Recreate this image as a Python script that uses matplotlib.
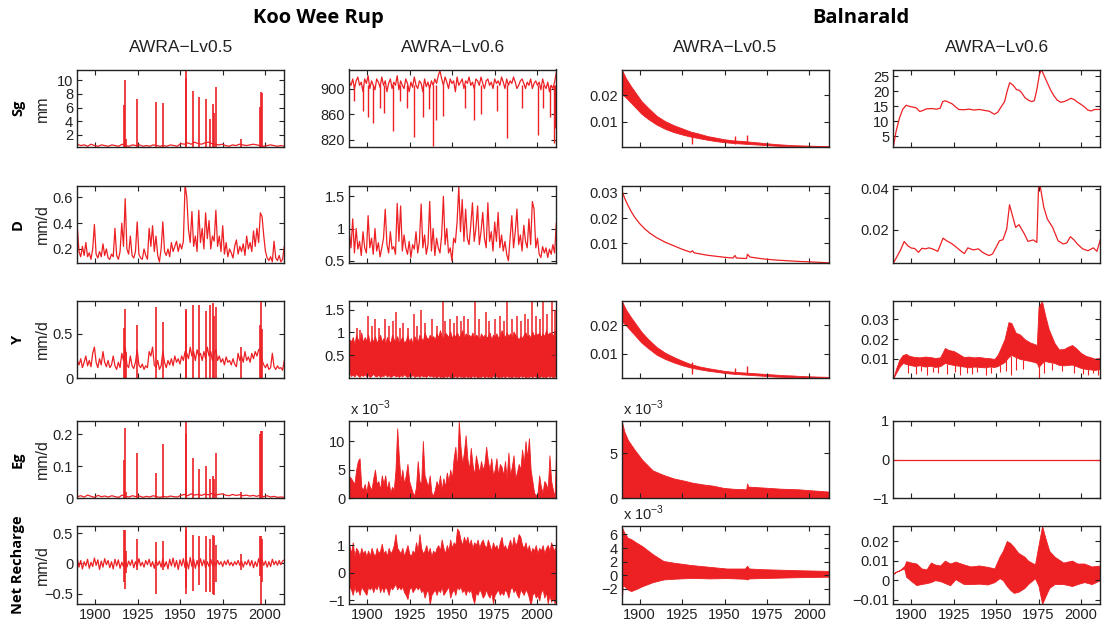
import numpy as np
import matplotlib
matplotlib.use("Agg")
import matplotlib.pyplot as plt

plt.rcParams["font.family"] = ["Liberation Sans", "DejaVu Sans"]

RED = "#ed2024"
XLIM = (1889.4, 2011.4)
XTICKS = [1900, 1925, 1950, 1975, 2000]

# ---------------- Koo Wee Rup, shared event years (spikes) ----------------
kwr_event_years = [1889.5, 1916.7, 1917.4, 1918.2, 1924.7, 1936.0, 1940.2, 1953.2, 1953.7, 1957.4,
                   1961.4, 1965.5, 1967.6, 1969.3, 1969.9, 1971.4, 1985.6, 1996.8, 1997.6, 1998.1]

# Sg, AWRA-Lv0.5, Koo Wee Rup (mm)
sg05_kwr_base = [0.6, 0.4, 0.5, 0.3, 0.6, 0.4, 0.3, 0.5, 0.4, 0.3,
                 0.5, 0.4, 0.3, 0.6, 0.4, 0.3, 0.5, 0.4, 0.5, 0.3,
                 0.4, 0.3, 0.5, 0.4, 0.3, 0.4, 0.3, 0.5, 0.4, 0.3,
                 0.7, 0.6, 0.8, 0.6, 0.9, 0.7, 0.6, 0.8, 0.9, 0.7,
                 0.6, 0.5, 0.6, 0.4, 0.3, 0.5, 0.4, 0.6, 0.5, 0.4,
                 0.5, 0.6, 0.5, 0.4, 0.3, 0.4, 0.5, 0.4, 0.3, 0.4, 0.3]
sg05_kwr_peaks = [6.2, 6.3, 10.0, 1.3, 7.2, 6.8, 6.6, 11.6, 10.4, 8.4,
                  7.6, 7.3, 4.3, 6.5, 5.2, 9.0, 1.4, 6.1, 8.3, 8.2]

# Sg, AWRA-Lv0.6, Koo Wee Rup (mm)
sg06_kwr = [910, 905, 915, 900, 912, 918, 905, 910, 895, 915,
            908, 920, 900, 912, 905, 898, 915, 910, 902, 918,
            905, 912, 895, 908, 915, 900, 910, 905, 920, 898,
            912, 905, 900, 915, 908, 895, 910, 902, 918, 905,
            900, 912, 908, 895, 915, 903, 910, 900, 912, 905,
            915, 908, 920, 928, 915, 905, 918, 910, 900, 915,
            908, 912, 895, 918, 905, 910, 915, 900, 912, 908,
            918, 905, 910, 900, 915, 912, 905, 918, 908, 900,
            912, 915, 905, 910, 900, 915, 908, 912, 905, 918,
            910, 900, 915, 905, 912, 908, 918, 910, 900, 905,
            912, 915, 908, 900, 910, 905, 915, 900, 908, 912,
            905, 910, 898, 915, 905, 900, 910, 895, 905, 900,
            910, 925]
sg06_kwr_dip_years = [1891.9, 1897.2, 1900.4, 1903.5, 1907.7, 1909.9, 1915.1, 1919.3, 1923.6, 1927.8,
                      1932.6, 1936.2, 1938.9, 1940.4, 1944.7, 1957.3, 1962.6, 1966.8, 1976.3, 1982.6,
                      1991.0, 2000.4, 2003.6, 2007.8, 2009.9, 2010.6]
sg06_kwr_dip_vals = [880, 865, 856, 846, 870, 862, 833, 880, 870, 824,
                     856, 868, 810, 850, 857, 870, 850, 860, 865, 822,
                     870, 828, 870, 855, 815, 838]

# Sg, Balnarald, AWRA-Lv0.5 (band)
sg05_bal_years = [1889.4, 1892, 1895, 1898, 1901, 1905, 1910, 1915, 1920, 1925, 1930, 1935, 1940, 1945,
                  1950, 1955, 1960, 1965, 1970, 1975, 1980, 1985, 1990, 1995, 2000, 2005, 2011.4]
sg05_bal_hi = [0.0296, 0.0262, 0.0232, 0.0205, 0.0178, 0.0152, 0.0122, 0.0102, 0.0087, 0.0075, 0.0063,
               0.0055, 0.0046, 0.0040, 0.0034, 0.0030, 0.0028, 0.0025, 0.0022, 0.0019, 0.0016, 0.0014,
               0.0012, 0.0011, 0.0010, 0.0009, 0.0009]
sg05_bal_lo = [0.0205, 0.0190, 0.0170, 0.0150, 0.0130, 0.0110, 0.0089, 0.0073, 0.0061, 0.0052, 0.0044,
               0.0038, 0.0032, 0.0027, 0.0023, 0.0020, 0.0018, 0.0016, 0.0014, 0.0012, 0.0010, 0.0009,
               0.0008, 0.0007, 0.0006, 0.0006, 0.0005]
bal05_bump_years = [1931.1, 1956.2, 1963.3]
sg05_bal_bumps = [0.0055, 0.0045, 0.0050]

# Sg, Balnarald, AWRA-Lv0.6 (line)
sg06_bal_years = [1889.4, 1891, 1893, 1895, 1897, 1899, 1901, 1903, 1905, 1907, 1909, 1912, 1915, 1917,
                  1918.5, 1920, 1922, 1924, 1926, 1928, 1931, 1934, 1937, 1940, 1943, 1946, 1949, 1951,
                  1953, 1955, 1956.5, 1958, 1960, 1962, 1963.5, 1965, 1967, 1969, 1971, 1972.5, 1974,
                  1975.5, 1976.7, 1978, 1980, 1982, 1984, 1986, 1988, 1990, 1992, 1994, 1996, 1998,
                  2000, 2002, 2004, 2006, 2008, 2011.4]
sg06_bal = [1.4, 6.5, 11.0, 14.0, 15.3, 14.9, 14.7, 14.4, 13.2, 13.6, 14.1, 14.2, 14.0, 14.3,
            16.5, 16.8, 16.3, 15.8, 14.8, 13.9, 13.8, 14.0, 13.7, 13.9, 13.6, 13.3, 12.3, 13.0,
            14.8, 16.5, 20.0, 22.8, 22.0, 20.5, 20.3, 19.5, 17.8, 17.0, 16.5, 16.8, 20.5,
            25.5, 27.2, 25.5, 23.0, 20.5, 18.5, 17.0, 16.3, 16.5, 17.0, 17.6, 17.2, 16.3,
            15.6, 14.8, 13.7, 13.4, 13.9, 13.9]

# D (mm/d)
d05_kwr = [0.37, 0.18, 0.14, 0.22, 0.15, 0.25, 0.14, 0.17, 0.12, 0.20,
           0.39, 0.16, 0.13, 0.18, 0.14, 0.24, 0.15, 0.20, 0.13, 0.12,
           0.16, 0.14, 0.36, 0.15, 0.12, 0.18, 0.40, 0.22, 0.59, 0.20,
           0.16, 0.30, 0.15, 0.13, 0.18, 0.41, 0.16, 0.13, 0.12, 0.20,
           0.15, 0.12, 0.36, 0.22, 0.38, 0.18, 0.30, 0.15, 0.10, 0.20,
           0.41, 0.18, 0.15, 0.20, 0.14, 0.25, 0.18, 0.22, 0.26, 0.18,
           0.24, 0.20, 0.26, 0.70, 0.60, 0.35, 0.25, 0.49, 0.22, 0.30,
           0.18, 0.50, 0.25, 0.36, 0.20, 0.48, 0.28, 0.42, 0.20, 0.30,
           0.26, 0.50, 0.22, 0.30, 0.18, 0.38, 0.16, 0.25, 0.14, 0.20,
           0.17, 0.13, 0.22, 0.27, 0.16, 0.22, 0.18, 0.24, 0.15, 0.30,
           0.20, 0.25, 0.18, 0.34, 0.22, 0.36, 0.25, 0.48, 0.45, 0.30,
           0.18, 0.13, 0.11, 0.14, 0.10, 0.26, 0.13, 0.11, 0.15, 0.10,
           0.12, 0.22]
d06_kwr = [0.95, 0.70, 1.15, 0.62, 1.00, 0.68, 0.80, 0.58, 0.95, 0.70,
           0.62, 1.20, 0.70, 0.85, 0.60, 1.00, 0.65, 0.78, 0.56, 0.70,
           0.85, 1.30, 0.75, 0.62, 0.95, 0.68, 0.72, 0.60, 1.39, 0.80,
           1.35, 0.65, 0.90, 0.70, 0.60, 0.80, 0.55, 0.75, 0.68, 0.95,
           0.62, 0.80, 1.38, 0.70, 0.90, 0.60, 0.75, 1.42, 0.65, 1.00,
           0.58, 0.85, 0.70, 0.62, 0.90, 1.50, 0.75, 1.00, 0.62, 0.70,
           0.50, 0.85, 0.78, 1.10, 1.65, 0.95, 1.45, 0.80, 1.30, 0.85,
           0.75, 1.05, 1.40, 0.80, 1.00, 1.35, 0.75, 0.95, 1.25, 0.85,
           0.70, 1.40, 0.80, 0.95, 0.65, 1.10, 0.80, 1.25, 0.70, 0.90,
           0.65, 0.80, 0.60, 0.50, 0.85, 1.20, 0.70, 0.95, 1.30, 0.75,
           0.90, 0.65, 1.05, 0.80, 0.70, 1.15, 0.75, 1.42, 1.30, 0.70,
           0.85, 0.60, 0.55, 0.72, 0.62, 0.70, 0.55, 0.68, 0.60, 0.75,
           0.62, 1.08]
d05_bal_years = [1889.4, 1890, 1891, 1892, 1893, 1895, 1897, 1900, 1903, 1906, 1910, 1915, 1920, 1925,
                 1930, 1931.1, 1932, 1935, 1940, 1945, 1950, 1955, 1956.2, 1957, 1960, 1963, 1963.5,
                 1965, 1970, 1975, 1980, 1985, 1990, 1995, 2000, 2005, 2011.4]
d05_bal = [0.0316, 0.0300, 0.0282, 0.0266, 0.0252, 0.0226, 0.0204, 0.0178, 0.0157, 0.0140, 0.0122,
           0.0104, 0.0090, 0.0076, 0.0064, 0.0070, 0.0062, 0.0058, 0.0052, 0.0048, 0.0044, 0.0041,
           0.0051, 0.0041, 0.0040, 0.0039, 0.0056, 0.0045, 0.0040, 0.0036, 0.0033, 0.0031, 0.0029,
           0.0027, 0.0026, 0.0024, 0.0022]
d06_bal_years = [1889.4, 1893.7, 1895.8, 1898, 1900, 1902, 1904.2, 1906.3, 1908.3, 1910.4, 1912.5,
                 1915.6, 1918.75, 1920.8, 1924, 1927, 1930.2, 1931.3, 1933.3, 1936.5, 1939.6, 1941.7,
                 1943.75, 1945.8, 1947.9, 1952, 1954, 1956.25, 1957.9, 1959.4, 1961.5, 1963.5, 1966.7,
                 1968.75, 1971.9, 1974, 1975, 1976, 1978.1, 1980.2, 1983.3, 1986.5, 1989.6, 1991.7,
                 1993.75, 1995.8, 1997.9, 2001, 2004.2, 2007.3, 2009.4, 2011.4]
d06_bal = [0.0034, 0.0100, 0.0141, 0.0120, 0.0109, 0.0107, 0.0088, 0.0108, 0.0105, 0.0110, 0.0105,
           0.0093, 0.0158, 0.0145, 0.0130, 0.0110, 0.0088, 0.0082, 0.0110, 0.0100, 0.0105, 0.0090,
           0.0080, 0.0072, 0.0080, 0.0145, 0.0150, 0.0203, 0.0322, 0.0276, 0.0211, 0.0224, 0.0178,
           0.0142, 0.0149, 0.0137, 0.0408, 0.0413, 0.0310, 0.0252, 0.0211, 0.0145, 0.0129, 0.0135,
           0.0165, 0.0150, 0.0129, 0.0105, 0.0096, 0.0110, 0.0093, 0.0150]

# Y (mm/d)
y05_kwr_base = [0.20, 0.15, 0.22, 0.12, 0.18, 0.25, 0.14, 0.20, 0.13, 0.28,
                0.35, 0.18, 0.12, 0.22, 0.15, 0.30, 0.18, 0.13, 0.20, 0.12,
                0.15, 0.25, 0.14, 0.10, 0.18, 0.12, 0.28, 0.20, 0.35, 0.15,
                0.12, 0.25, 0.14, 0.11, 0.18, 0.32, 0.15, 0.12, 0.16, 0.10,
                0.14, 0.12, 0.30, 0.25, 0.35, 0.15, 0.12, 0.20, 0.10, 0.14,
                0.30, 0.18, 0.12, 0.20, 0.15, 0.22, 0.14, 0.25, 0.18, 0.22,
                0.16, 0.25, 0.20, 0.30, 0.28, 0.22, 0.35, 0.25, 0.30, 0.20,
                0.32, 0.25, 0.28, 0.20, 0.30, 0.22, 0.35, 0.25, 0.30, 0.20,
                0.28, 0.32, 0.20, 0.25, 0.18, 0.22, 0.15, 0.24, 0.18, 0.20,
                0.15, 0.22, 0.16, 0.13, 0.28, 0.20, 0.25, 0.18, 0.30, 0.20,
                0.24, 0.18, 0.28, 0.22, 0.30, 0.25, 0.32, 0.33, 0.20, 0.15,
                0.12, 0.16, 0.10, 0.12, 0.28, 0.13, 0.10, 0.14, 0.11, 0.12,
                0.09, 0.20]
y05_kwr_peaks = [0.87, 0.57, 0.78, 0.30, 0.60, 0.80, 0.63, 0.78, 0.75, 0.82,
                 0.82, 0.76, 0.82, 0.85, 0.70, 0.80, 0.35, 0.60, 0.87, 0.55]
y06_kwr_hi = [0.85, 0.80, 0.90, 0.75, 0.95, 0.85, 0.80, 1.00, 0.78, 0.90,
              0.82, 0.95, 0.75, 0.88, 0.80, 0.92, 0.78, 0.85, 0.95, 0.80,
              0.88, 0.75, 0.90, 0.82, 0.78, 0.95, 0.85, 0.80, 0.92, 0.76,
              0.85, 0.90, 0.78, 0.82, 0.95, 0.80, 0.88, 0.75, 0.92, 0.85,
              0.80, 0.95, 0.88, 0.82, 1.00, 0.90, 0.85, 0.95, 0.88, 0.92,
              0.85, 0.98, 0.90, 1.05, 0.92, 0.88, 1.00, 0.95, 0.90, 1.02,
              0.88, 0.95, 0.92, 1.00, 0.90, 0.95, 1.05, 0.88, 0.98, 0.92,
              0.95, 0.90, 1.00, 0.88, 0.95, 0.92, 0.85, 0.98, 0.90, 0.95,
              0.88, 0.92, 1.00, 0.85, 0.95, 0.90, 0.98, 0.88, 0.92, 1.05,
              0.95, 0.90, 1.00, 0.92, 0.98, 0.88, 1.02, 0.95, 0.90, 0.85,
              0.92, 0.88, 0.95, 1.00, 0.90, 0.95, 0.88, 1.02, 0.92, 0.98,
              0.95, 1.00, 0.90, 0.98, 0.92, 1.05, 0.95, 1.00, 0.98, 0.92,
              1.05, 1.00]
y06_kwr_lo = [0.12, 0.05, 0.08, 0.04, 0.10, 0.06, 0.03, 0.08, 0.05, 0.09,
              0.04, 0.07, 0.03, 0.06, 0.10, 0.05, 0.04, 0.08, 0.03, 0.06,
              0.05, 0.09, 0.04, 0.07, 0.03, 0.05, 0.08, 0.04, 0.06, 0.03,
              0.07, 0.04, 0.09, 0.05, 0.03, 0.06, 0.04, 0.08, 0.03, 0.05,
              0.06, 0.03, 0.07, 0.04, 0.05, 0.03, 0.08, 0.04, 0.06, 0.03,
              0.05, 0.02, 0.06, 0.03, 0.04, 0.02, 0.05, 0.03, 0.06, 0.02,
              0.04, 0.03, 0.05, 0.02, 0.06, 0.03, 0.04, 0.02, 0.05, 0.03,
              0.04, 0.02, 0.06, 0.03, 0.05, 0.02, 0.04, 0.03, 0.06, 0.02,
              0.05, 0.03, 0.04, 0.02, 0.06, 0.03, 0.05, 0.02, 0.04, 0.03,
              0.05, 0.02, 0.06, 0.03, 0.04, 0.02, 0.05, 0.03, 0.04, 0.02,
              0.06, 0.03, 0.05, 0.02, 0.04, 0.03, 0.05, 0.02, 0.06, 0.03,
              0.04, 0.02, 0.05, 0.03, 0.04, 0.02, 0.06, 0.03, 0.05, 0.02,
              0.04, 0.05]
y06_kwr_spike_years = [1893.8, 1896, 1900.2, 1902.5, 1904.4, 1907, 1910.7, 1913, 1914.9, 1917,
                       1919, 1921.3, 1924, 1927.6, 1929.5, 1931.8, 1934, 1938.1, 1941, 1944.5,
                       1946, 1948.7, 1951, 1952.9, 1955, 1957.1, 1959.5, 1963.4, 1966, 1969.8,
                       1972, 1975, 1978.2, 1980.5, 1982.4, 1985, 1988, 1990.5, 1993, 1995,
                       1997.2, 1999.5, 2001.5, 2003.5, 2006, 2008.8, 2010.9]
y06_kwr_spike_vals = [1.10, 1.05, 1.35, 1.15, 1.30, 1.10, 1.30, 1.15, 1.25, 1.45,
                      1.10, 1.20, 1.10, 1.40, 1.15, 1.50, 1.20, 1.30, 1.15, 1.69,
                      1.25, 1.30, 1.20, 1.35, 1.25, 1.35, 1.30, 1.69, 1.30, 1.45,
                      1.25, 1.30, 1.35, 1.25, 1.69, 1.30, 1.35, 1.25, 1.40, 1.30,
                      1.69, 1.35, 1.30, 1.69, 1.40, 1.69, 1.50]
y05_bal_hi = [0.0287, 0.0255, 0.0228, 0.0203, 0.0178, 0.0152, 0.0124, 0.0104, 0.0089, 0.0076, 0.0064,
              0.0056, 0.0050, 0.0045, 0.0040, 0.0037, 0.0035, 0.0033, 0.0031, 0.0029, 0.0027, 0.0025,
              0.0024, 0.0022, 0.0021, 0.0020, 0.0019]
y05_bal_lo = [0.0215, 0.0200, 0.0180, 0.0160, 0.0140, 0.0120, 0.0097, 0.0082, 0.0070, 0.0060, 0.0052,
              0.0046, 0.0041, 0.0037, 0.0033, 0.0030, 0.0028, 0.0026, 0.0024, 0.0022, 0.0020, 0.0019,
              0.0018, 0.0017, 0.0016, 0.0015, 0.0014]
y05_bal_bumps = [0.0070, 0.0050, 0.0058]
y06_bal_years = [1889.4, 1891, 1893, 1895, 1897, 1899, 1902, 1905, 1908, 1911, 1914, 1917, 1919.8,
                 1922, 1925, 1928, 1931, 1934, 1937, 1940, 1943, 1946, 1949, 1951, 1953, 1955, 1957.3,
                 1959, 1961.5, 1964, 1967, 1970, 1972.5, 1974, 1975, 1977, 1979, 1981, 1984.4, 1987,
                 1990, 1992, 1994.8, 1997, 2000, 2003, 2005.2, 2008, 2011.4]
y06_bal_hi = [0.0003, 0.0050, 0.0097, 0.0120, 0.0125, 0.0115, 0.0110, 0.0108, 0.0112, 0.0110, 0.0105,
              0.0108, 0.0155, 0.0145, 0.0140, 0.0125, 0.0110, 0.0112, 0.0108, 0.0110, 0.0106, 0.0104,
              0.0100, 0.0122, 0.0160, 0.0200, 0.0285, 0.0280, 0.0232, 0.0223, 0.0198, 0.0183, 0.0175,
              0.0170, 0.0363, 0.0390, 0.0315, 0.0250, 0.0180, 0.0148, 0.0150, 0.0160, 0.0170, 0.0155,
              0.0130, 0.0115, 0.0110, 0.0102, 0.0105]
y06_bal_lo = [0.0003, 0.0030, 0.0060, 0.0080, 0.0075, 0.0070, 0.0065, 0.0068, 0.0062, 0.0066, 0.0060,
              0.0064, 0.0080, 0.0075, 0.0070, 0.0066, 0.0062, 0.0058, 0.0062, 0.0060, 0.0058, 0.0062,
              0.0060, 0.0065, 0.0075, 0.0085, 0.0110, 0.0120, 0.0110, 0.0100, 0.0095, 0.0090, 0.0085,
              0.0080, 0.0060, 0.0080, 0.0090, 0.0085, 0.0080, 0.0070, 0.0068, 0.0070, 0.0072, 0.0065,
              0.0055, 0.0050, 0.0048, 0.0045, 0.0050]
y06_bal_dip_years = [1898, 1903, 1906, 1909, 1913, 1916, 1921, 1926, 1929, 1933, 1936, 1939, 1944, 1947,
                     1952, 1956, 1958.5, 1962, 1966, 1975.5, 1978, 1983, 1989, 1996, 2001, 2004, 2007, 2010]
y06_bal_dip_vals = [0.0030, 0.0025, 0.0040, 0.0020, 0.0035, 0.0030, 0.0025, 0.0035, 0.0020, 0.0030,
                    0.0025, 0.0035, 0.0020, 0.0030, 0.0035, 0.0040, 0.0020, 0.0045, 0.0050, 0.0005,
                    0.0030, 0.0045, 0.0040, 0.0030, 0.0025, 0.0020, 0.0030, 0.0020]

# Eg (mm/d)
eg05_kwr_base = [0.005, 0.008, 0.004, 0.010, 0.006, 0.003, 0.009, 0.005, 0.007, 0.004,
                 0.008, 0.005, 0.003, 0.010, 0.006, 0.004, 0.008, 0.005, 0.007, 0.003,
                 0.006, 0.004, 0.008, 0.005, 0.003, 0.006, 0.004, 0.007, 0.005, 0.004,
                 0.009, 0.012, 0.008, 0.014, 0.010, 0.012, 0.009, 0.013, 0.011, 0.015,
                 0.010, 0.012, 0.014, 0.010, 0.008, 0.012, 0.009, 0.011, 0.008, 0.010,
                 0.007, 0.009, 0.006, 0.010, 0.005, 0.008, 0.004, 0.006, 0.003, 0.004, 0.003]
eg05_kwr_peaks = [0.17, 0.12, 0.22, 0.02, 0.14, 0.08, 0.17, 0.24, 0.20, 0.125,
                  0.09, 0.10, 0.06, 0.07, 0.06, 0.14, 0.02, 0.20, 0.21, 0.21]
eg06_kwr_hi_e3 = [3.8, 3.5, 3.0, 2.5, 5.0, 6.5, 7.0, 2.0, 1.5, 2.5,
                  1.0, 3.0, 2.0, 1.5, 3.5, 5.0, 2.5, 3.0, 1.5, 4.0,
                  2.5, 4.0, 1.5, 3.0, 1.0, 2.0, 1.5, 5.0, 12.2, 7.0,
                  3.0, 5.0, 2.5, 4.0, 6.0, 3.0, 2.0, 1.0, 0.5, 2.0,
                  6.5, 3.0, 2.5, 10.0, 4.0, 3.0, 2.0, 4.0, 1.0, 0.5,
                  1.5, 3.0, 2.0, 4.0, 1.5, 3.5, 2.0, 4.5, 3.0, 5.0,
                  3.5, 7.0, 9.0, 5.0, 13.5, 9.0, 6.0, 8.0, 11.0, 7.0,
                  5.0, 8.8, 6.0, 4.0, 7.5, 6.0, 4.5, 6.5, 5.0, 6.0,
                  9.0, 6.5, 5.0, 7.0, 4.0, 5.0, 7.0, 4.0, 6.0, 5.5,
                  4.0, 6.5, 3.5, 8.0, 4.0, 5.5, 7.5, 3.5, 4.5, 6.0,
                  5.0, 8.5, 6.0, 10.0, 7.0, 10.5, 5.0, 3.0, 1.0, 0.5,
                  0.8, 4.0, 2.0, 1.0, 3.0, 2.5, 1.5, 7.5, 3.0, 1.5,
                  0.2, 9.5]
eg05_bal_years = [1889.4, 1891, 1893, 1897, 1901.4, 1907.7, 1914, 1920.2, 1926.5, 1930.7, 1937, 1943.3,
                  1949.6, 1955.9, 1962.8, 1963.3, 1964, 1972.6, 1983, 1993.5, 2004, 2011.4]
eg05_bal_hi_e3 = [8.6, 7.4, 6.5, 5.4, 4.3, 3.1, 2.6, 2.2, 1.95, 1.75, 1.55, 1.4, 1.15, 1.05, 1.0,
                  1.65, 1.3, 1.2, 1.07, 1.0, 0.85, 0.75]
eg06_bal = [0.0, 0.0]

# Net recharge (mm/d)
nr05_kwr_base = [0.08, -0.06, 0.05, -0.09, 0.03, -0.04, 0.07, -0.08, 0.02, -0.05,
                 0.09, -0.03, 0.06, -0.10, 0.04, -0.06, 0.08, -0.02, 0.05, -0.07,
                 0.03, -0.09, 0.07, -0.04, 0.06, -0.08, 0.02, -0.05, 0.09, -0.06,
                 0.04, -0.03, 0.06, -0.07, 0.03, -0.05, 0.08, -0.04, 0.02, -0.06,
                 0.05, -0.02, 0.07, -0.05, 0.03, -0.08, 0.06, -0.03, 0.04, -0.06,
                 0.08, -0.05, 0.03, -0.09, 0.07, -0.04, 0.09, -0.06, 0.05, -0.10,
                 0.06, -0.04, 0.08, -0.07, 0.04, -0.09, 0.10, -0.05, 0.07, -0.08,
                 0.05, -0.06, 0.08, -0.04, 0.06, -0.07, 0.03, -0.05, 0.07, -0.03,
                 0.02, -0.04, 0.05, -0.02, 0.03, -0.05, 0.04, -0.02, 0.06, -0.03,
                 0.02, -0.04, 0.03, -0.02, 0.05, -0.03, 0.04, -0.06, 0.03, -0.02,
                 0.06, -0.04, 0.05, -0.07, 0.03, -0.05, 0.08, -0.04, 0.06, -0.03,
                 0.04, -0.06, 0.03, -0.05, 0.07, -0.02, 0.04, -0.03, 0.05, -0.02,
                 0.04, 0.06]
nr05_kwr_highs = [0.25, 0.55, 0.55, 0.20, 0.40, 0.36, 0.38, 0.62, 0.55, 0.48,
                  0.45, 0.45, 0.40, 0.48, 0.45, 0.30, 0.15, 0.45, 0.45, 0.40]
nr05_kwr_lows = [-0.672, -0.30, -0.43, -0.15, -0.10, -0.50, -0.10, -0.50, -0.40, -0.45,
                 -0.35, -0.47, -0.47, -0.50, -0.52, -0.30, -0.10, -0.20, -0.672, -0.30]
nr06_kwr_hi = [1.0, 0.7, 1.1, 0.6, 0.9, 0.8, 0.6, 0.9, 0.7, 0.8,
               0.6, 0.8, 0.6, 0.9, 0.7, 0.6, 0.9, 0.7, 0.8, 1.05,
               0.7, 0.8, 0.6, 0.9, 0.7, 0.8, 1.0, 1.4, 0.9, 0.8,
               0.7, 0.9, 0.6, 0.8, 1.0, 0.7, 0.6, 0.8, 0.7, 1.1,
               0.8, 1.4, 0.9, 0.7, 0.8, 1.0, 0.7, 0.9, 0.6, 0.8,
               0.7, 0.9, 1.0, 0.8, 1.2, 0.9, 0.7, 1.0, 0.8, 1.2,
               0.9, 1.1, 1.0, 1.6, 1.5, 1.2, 1.0, 1.3, 1.1, 1.3,
               1.0, 1.2, 0.9, 1.1, 1.0, 1.2, 0.9, 1.1, 1.2, 1.0,
               0.9, 1.2, 1.0, 0.8, 1.1, 0.9, 1.0, 0.8, 1.1, 1.3,
               0.9, 1.0, 0.8, 1.0, 1.2, 0.9, 1.3, 1.0, 1.1, 1.4,
               1.3, 1.0, 0.9, 1.1, 0.8, 1.0, 0.7, 0.9, 0.8, 1.0,
               0.7, 0.9, 0.8, 1.0, 0.7, 0.9, 1.0, 0.8, 1.1, 0.9,
               0.8, 1.1]
nr06_kwr_lo = [-0.5, -0.6, -0.8, -0.5, -0.7, -0.6, -0.8, -0.5, -0.6, -0.7,
               -0.8, -0.5, -0.6, -0.5, -0.7, -0.5, -0.6, -0.4, -0.7, -0.5,
               -0.7, -0.5, -0.6, -0.8, -0.5, -0.6, -0.5, -0.4, -0.6, -0.5,
               -0.6, -0.5, -0.7, -0.8, -0.95, -0.6, -0.5, -0.7, -0.6, -0.5,
               -0.6, -0.5, -0.7, -0.6, -0.9, -0.7, -0.6, -1.15, -0.8, -0.7,
               -0.6, -0.8, -0.6, -0.7, -0.5, -0.8, -0.7, -0.6, -0.5, -0.9,
               -0.7, -0.6, -0.8, -0.5, -0.6, -0.5, -0.7, -0.6, -0.8, -0.6,
               -0.7, -0.6, -0.9, -1.1, -0.7, -0.8, -0.6, -0.7, -0.9, -0.8,
               -0.6, -0.8, -0.9, -0.7, -1.1, -0.8, -0.7, -0.6, -0.8, -0.7,
               -0.8, -0.6, -0.7, -0.9, -0.6, -0.5, -0.7, -0.6, -0.8, -0.9,
               -0.6, -0.7, -0.8, -0.6, -0.7, -0.9, -1.2, -0.8, -0.7, -0.9,
               -0.8, -1.0, -0.7, -0.6, -0.9, -0.7, -1.1, -0.8, -1.05, -0.9,
               -1.1, -0.9]
nr05_bal_years = [1889.4, 1890, 1891, 1893, 1895, 1898, 1901.4, 1907.7, 1914, 1920.2, 1930.7, 1941,
                  1951.4, 1962, 1963.3, 1964.5, 1972.6, 1993.5, 2011.4]
nr05_bal_hi_e3 = [7.2, 6.8, 6.2, 5.5, 5.3, 4.8, 4.3, 3.1, 2.1, 1.85, 1.5, 1.25, 1.0, 1.0, 1.4, 1.0,
                  0.9, 0.75, 0.65]
nr05_bal_lo_e3 = [-4.2, -1.5, -1.6, -2.1, -2.3, -2.0, -1.6, -1.0, -0.6, -0.5, -0.37, -0.45, -0.4,
                  -0.5, -0.6, -0.45, -0.4, -0.27, -0.2]
nr06_bal_years = [1889.4, 1891, 1893, 1895.8, 1897, 1900, 1903, 1906, 1909, 1911.5, 1914, 1917,
                  1919.8, 1922.9, 1926, 1931, 1935, 1940, 1945, 1949, 1952, 1954, 1956.3, 1958.3,
                  1960.4, 1963, 1966.7, 1968.8, 1972.9, 1975, 1977.1, 1979.2, 1981.3, 1984.4, 1989.6,
                  1994.8, 1997.9, 2002, 2006.3, 2011.4]
nr06_bal_hi = [0.0033, 0.0043, 0.0050, 0.0071, 0.0097, 0.0090, 0.0085, 0.0060, 0.0055, 0.0090,
               0.0080, 0.0075, 0.0100, 0.0085, 0.0095, 0.0080, 0.0070, 0.0075, 0.0068, 0.0060,
               0.0120, 0.0150, 0.0200, 0.0190, 0.0170, 0.0140, 0.0120, 0.0100, 0.0080, 0.0180,
               0.0277, 0.0210, 0.0150, 0.0120, 0.0090, 0.0100, 0.0085, 0.0085, 0.0070, 0.0075]
nr06_bal_lo = [0.0033, 0.0043, 0.0050, 0.0060, 0.0017, -0.0005, -0.0025, -0.0020, -0.0015, -0.0010,
               0.0000, -0.0005, -0.0015, -0.0026, 0.0005, -0.0020, -0.0020, -0.0018, -0.0022, -0.0010,
               0.0010, 0.0000, -0.0030, -0.0050, -0.0065, -0.0060, -0.0040, -0.0020, 0.0010, -0.0030,
               -0.0122, -0.0080, -0.0040, -0.0020, -0.0020, -0.0030, -0.0020, -0.0010, -0.0020, 0.0000]

# ---------------- text ----------------
site_titles = ["Koo Wee Rup", "Balnarald"]
model_titles = ["AWRA\u2212Lv0.5", "AWRA\u2212Lv0.6", "AWRA\u2212Lv0.5", "AWRA\u2212Lv0.6"]
row_names = ["Sg", "D", "Y", "Eg", "Net Recharge"]
row_units = ["mm", "mm/d", "mm/d", "mm/d", "mm/d"]

# ---------------- layout (pixels) ----------------
W, H = 1105, 630
col_left = [77.3, 349.3, 621.7, 893.3]
col_w = 207.0
row_tb = [(69.5, 147.0), (185.7, 263.3), (300.8, 378.3), (420.7, 498.3), (526.0, 604.0)]
LW = 0.9
TXT = "#222222"

fig = plt.figure(figsize=(W / 100, H / 100), dpi=100)
fig.patch.set_facecolor("white")


def mk_ax(r, c):
    t, b = row_tb[r]
    return fig.add_axes([col_left[c] / W, 1 - b / H, col_w / W, (b - t) / H])


def fmt(v):
    return ("%g" % v).replace("-", "\u2212")


def style(ax, r, ylim, yticks):
    ax.set_xlim(XLIM)
    ax.set_ylim(ylim)
    ax.set_xticks(XTICKS)
    ax.set_yticks(yticks)
    ax.set_yticklabels([fmt(v) for v in yticks])
    if r == 4:
        ax.set_xticklabels([str(t) for t in XTICKS])
    else:
        ax.set_xticklabels([])
    ax.tick_params(direction="in", length=3.5, width=0.8, top=True, right=True,
                   labelsize=10.5, pad=3, colors=TXT)
    for s in ax.spines.values():
        s.set_linewidth(1.0)
        s.set_color(TXT)


def even_x(vals):
    return np.linspace(XLIM[0], XLIM[1], len(vals))


def band(ax, years, lo, hi):
    ax.fill_between(years, lo, hi, color=RED, lw=0.6, edgecolor=RED)


# Row 0: Sg
ax = mk_ax(0, 0)
ax.plot(even_x(sg05_kwr_base), sg05_kwr_base, color=RED, lw=LW)
ax.vlines(kwr_event_years, 0.19, sg05_kwr_peaks, color=RED, lw=1.2)
style(ax, 0, (0.19, 11.6), [2, 4, 6, 8, 10])

ax = mk_ax(0, 1)
ax.plot(even_x(sg06_kwr), sg06_kwr, color=RED, lw=LW)
ax.vlines(sg06_kwr_dip_years, sg06_kwr_dip_vals, 905, color=RED, lw=1.0)
style(ax, 0, (808.5, 929.8), [820, 860, 900])

ax = mk_ax(0, 2)
band(ax, sg05_bal_years, sg05_bal_lo, sg05_bal_hi)
ax.vlines(bal05_bump_years, 0.0015, sg05_bal_bumps, color=RED, lw=1.0)
style(ax, 0, (0.0005, 0.0296), [0.01, 0.02])

ax = mk_ax(0, 3)
ax.plot(sg06_bal_years, sg06_bal, color=RED, lw=LW)
style(ax, 0, (1.4, 27.2), [5, 10, 15, 20, 25])

# Row 1: D
ax = mk_ax(1, 0)
ax.plot(even_x(d05_kwr), d05_kwr, color=RED, lw=LW)
style(ax, 1, (0.089, 0.69), [0.2, 0.4, 0.6])

ax = mk_ax(1, 1)
ax.plot(even_x(d06_kwr), d06_kwr, color=RED, lw=LW)
style(ax, 1, (0.46, 1.665), [0.5, 1, 1.5])

ax = mk_ax(1, 2)
ax.plot(d05_bal_years, d05_bal, color=RED, lw=LW)
style(ax, 1, (0.002, 0.0329), [0.01, 0.02, 0.03])

ax = mk_ax(1, 3)
ax.plot(d06_bal_years, d06_bal, color=RED, lw=LW)
style(ax, 1, (0.0034, 0.0416), [0.02, 0.04])

# Row 2: Y
ax = mk_ax(2, 0)
ax.plot(even_x(y05_kwr_base), y05_kwr_base, color=RED, lw=LW)
ax.vlines(kwr_event_years, 0.0, y05_kwr_peaks, color=RED, lw=1.2)
style(ax, 2, (0.0, 0.87), [0, 0.5])

ax = mk_ax(2, 1)
band(ax, even_x(y06_kwr_hi), y06_kwr_lo, y06_kwr_hi)
ax.vlines(y06_kwr_spike_years, 0.3, y06_kwr_spike_vals, color=RED, lw=1.1)
style(ax, 2, (0.0, 1.69), [0.5, 1, 1.5])

ax = mk_ax(2, 2)
band(ax, sg05_bal_years, y05_bal_lo, y05_bal_hi)
ax.vlines(bal05_bump_years, 0.003, y05_bal_bumps, color=RED, lw=1.0)
style(ax, 2, (0.0014, 0.0287), [0.01, 0.02])

ax = mk_ax(2, 3)
band(ax, y06_bal_years, y06_bal_lo, y06_bal_hi)
ax.vlines(y06_bal_dip_years, y06_bal_dip_vals,
          np.interp(y06_bal_dip_years, y06_bal_years, y06_bal_lo), color=RED, lw=0.8)
style(ax, 2, (0.0003, 0.0392), [0.01, 0.02, 0.03])

# Row 3: Eg
ax = mk_ax(3, 0)
ax.plot(even_x(eg05_kwr_base), eg05_kwr_base, color=RED, lw=LW)
ax.vlines(kwr_event_years, 0.0, eg05_kwr_peaks, color=RED, lw=1.2)
style(ax, 3, (0.0, 0.2415), [0, 0.1, 0.2])

ax = mk_ax(3, 1)
band(ax, even_x(eg06_kwr_hi_e3), 0.0, eg06_kwr_hi_e3)
style(ax, 3, (0.0, 13.55), [0, 5, 10])

ax = mk_ax(3, 2)
band(ax, eg05_bal_years, 0.0, eg05_bal_hi_e3)
style(ax, 3, (0.0, 8.63), [0, 5])

ax = mk_ax(3, 3)
ax.plot(XLIM, eg06_bal, color=RED, lw=LW)
style(ax, 3, (-1, 1), [-1, 0, 1])

# Row 4: Net recharge
ax = mk_ax(4, 0)
ax.plot(even_x(nr05_kwr_base), nr05_kwr_base, color=RED, lw=LW)
ax.vlines(kwr_event_years, nr05_kwr_lows, nr05_kwr_highs, color=RED, lw=1.2)
style(ax, 4, (-0.672, 0.622), [-0.5, 0, 0.5])

ax = mk_ax(4, 1)
band(ax, even_x(nr06_kwr_hi), nr06_kwr_lo, nr06_kwr_hi)
style(ax, 4, (-1.13, 1.69), [-1, 0, 1])

ax = mk_ax(4, 2)
band(ax, nr05_bal_years, nr05_bal_lo_e3, nr05_bal_hi_e3)
style(ax, 4, (-4.2, 7.23), [-2, 0, 2, 4, 6])

ax = mk_ax(4, 3)
band(ax, nr06_bal_years, nr06_bal_lo, nr06_bal_hi)
style(ax, 4, (-0.0122, 0.0277), [-0.01, 0, 0.01, 0.02])

# ---------------- labels ----------------
def ftxt(x, y, s, **kw):
    fig.text(x / W, 1 - y / H, s, **kw)

HEAD = dict(family=["Open Sans", "DejaVu Sans"], weight="bold")
ftxt(318, 18, site_titles[0], ha="center", va="center", fontsize=14.5, **HEAD)
ftxt(861, 18, site_titles[1], ha="center", va="center", fontsize=14.5, **HEAD)
for c in range(4):
    ftxt(col_left[c] + col_w / 2, 47, model_titles[c], ha="center", va="center",
         fontsize=12.5, color=TXT)
for r in range(5):
    t, b = row_tb[r]
    yc = (t + b) / 2
    ftxt(18, yc, row_names[r], ha="center", va="center", rotation=90, fontsize=10.5, **HEAD)
    ftxt(42, yc, row_units[r], ha="center", va="center", rotation=90, fontsize=11.5, color=TXT)

for (r, c) in [(3, 1), (3, 2), (4, 2)]:
    t, b = row_tb[r]
    ftxt(col_left[c] + 1, t - 3, "x 10$^{\\mathregular{\u22123}}$", ha="left", va="bottom",
         fontsize=10.5, color=TXT)

fig.savefig("out.png", dpi=100, facecolor="white")
